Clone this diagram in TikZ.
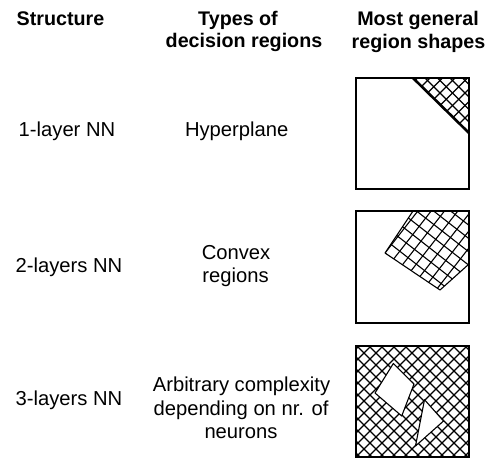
\documentclass[tikz,border=0pt]{standalone}
\usepackage{fontspec}
\setmainfont{Liberation Sans}
\begin{document}
\begin{tikzpicture}[x=1pt,y=-1pt,
  txt/.style={font=\fontsize{20.2}{23}\selectfont, inner sep=0pt, anchor=base},
  hdr/.style={txt, font=\fontsize{19.7}{23}\selectfont\bfseries},
  frame/.style={draw=black, line width=1.6pt},
  hatch/.style={draw=black, line width=1.3pt},
  edge/.style={draw=black, line width=1.1pt, line join=round}]
\useasboundingbox (0,0) rectangle (489,458);

% column headers
\node[hdr] (h1)  at (60.5,25.7) {Structure};
\node[hdr] (h2a) at (238,25.7)  {Types of};
\node[hdr] (h2b) at (244,47.7)  {decision regions};
\node[hdr] (h3a) at (418,25.7)  {Most general};
\node[hdr] (h3b) at (418.5,48)  {region shapes};

% row 1
\node[txt] (s1) at (67,136)    {1-layer NN};
\node[txt] (t1) at (236.7,136) {Hyperplane};
% row 2
\node[txt] (s2)  at (69,272)     {2-layers NN};
\node[txt] (t2a) at (236,259.3)  {Convex};
\node[txt] (t2b) at (235.5,282.7){regions};
% row 3
\node[txt] (s3)  at (69,405)     {3-layers NN};
\node[txt] (t3a) at (241.5,391.7){Arbitrary complexity};
\node[txt] (t3b) at (241,415)    {depending on nr. of};
\node[txt] (t3c) at (241,438.3)  {neurons};

% ---- box 1: half-plane cut by a single hyperplane
\begin{scope}
  \clip (413,78) -- (469,78) -- (469,133) -- cycle;
  \foreach \k in {-8,...,8} {
    \draw[hatch] ({503+12.5*\k-78+20},-20+78-20) -- ++(-120,120);
    \draw[hatch] ({347+12.5*\k+78-40},78-40) -- ++(120,120);
  }
\end{scope}
\draw[black, line width=2.6pt] (413,78) -- (469,133);
\draw[frame] (356,78) rectangle (469,189);

% ---- box 2: convex region with a slightly tilted cross-hatch
% u = (0.616,-0.788) and v = (0.788,0.616) are the two hatch directions
\begin{scope}
  \clip (385,253) -- (413,211) -- (469,211) -- (469,264) -- (440,290) -- cycle;
  \foreach \k in {-4,...,12} {
    \draw[hatch, line width=1.1pt]
      ({385+\k*10.5*0.788-150*0.616},{253+\k*10.5*0.616+150*0.788}) --
      ({385+\k*10.5*0.788+150*0.616},{253+\k*10.5*0.616-150*0.788});
    \draw[hatch, line width=1.1pt]
      ({385+\k*10.5*0.616-150*0.788},{253-\k*10.5*0.788-150*0.616}) --
      ({385+\k*10.5*0.616+150*0.788},{253-\k*10.5*0.788+150*0.616});
  }
\end{scope}
\draw[edge] (413,211) -- (385,253) -- (440,290) -- (469,264);
\draw[frame] (356,211) rectangle (469,323);

% ---- box 3: arbitrary region with two holes
\begin{scope}
  \clip (356,346) rectangle (469,457);
  \foreach \k in {-12,...,12} {
    \draw[hatch] ({412+12*\k-120},{401-120}) -- ++(240,240);
    \draw[hatch] ({412+12*\k+120},{401-120}) -- ++(-240,240);
  }
\end{scope}
\filldraw[fill=white, edge] (375,393) -- (393.3,363.5) -- (414,384) -- (401.7,416) -- cycle;
\filldraw[fill=white, edge] (424.5,399.7) -- (443.5,421) -- (415.5,446) -- cycle;
\draw[frame] (356,346) rectangle (469,457);
\end{tikzpicture}
\end{document}
